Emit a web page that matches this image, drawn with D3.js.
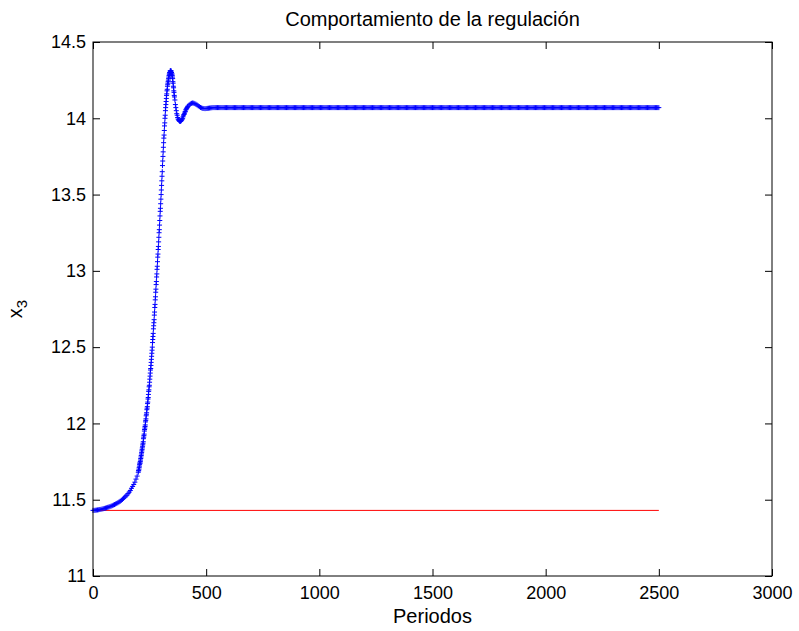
<!DOCTYPE html>
<html>
<head>
<meta charset="utf-8">
<script src="https://cdn.jsdelivr.net/npm/d3@7"></script>
<style>
  html, body { margin: 0; padding: 0; background: #fff; }
  svg { display: block; }
  text { font-family: "Liberation Sans", Arial, Helvetica, sans-serif; fill: #000; }
</style>
</head>
<body>
<div id="chart"></div>
<script>
// ---------------- data ----------------
const chartTitle = "Comportamiento de la regulación";
const xLabel = "Periodos";
const xTicks = [0, 500, 1000, 1500, 2000, 2500, 3000];
const yTicks = [11, 11.5, 12, 12.5, 13, 13.5, 14, 14.5];

// reference (red line)
const refPeriods = [0, 2500];
const refValues = [11.43, 11.43];

// x3 response, slow start: periods 0..195 step 5
const startFrom = 0, startStep = 5;
const x3Start = [11.430, 11.430, 11.431, 11.432, 11.433, 11.434, 11.436, 11.437, 11.439, 11.441,
                 11.443, 11.445, 11.447, 11.450, 11.452, 11.455, 11.458, 11.461, 11.465, 11.468,
                 11.472, 11.476, 11.480, 11.485, 11.490, 11.496, 11.502, 11.509, 11.517, 11.524,
                 11.530, 11.540, 11.550, 11.560, 11.575, 11.587, 11.600, 11.615, 11.635, 11.655];

// x3 response, steep rise and first peak: periods 200..360 step 1
const riseFrom = 200, riseStep = 1;
const x3Rise = [
  11.68, 11.69, 11.69, 11.70, 11.71, 11.72, 11.73, 11.74, 11.74, 11.75,
  11.76, 11.77, 11.78, 11.79, 11.80, 11.81, 11.82, 11.83, 11.84, 11.85,
  11.86, 11.87, 11.88, 11.90, 11.91, 11.92, 11.93, 11.95, 11.96, 11.97,
  11.98, 11.99, 12.01, 12.02, 12.03, 12.05, 12.06, 12.07, 12.09, 12.10,
  12.11, 12.13, 12.14, 12.16, 12.17, 12.19, 12.21, 12.22, 12.24, 12.25,
  12.27, 12.29, 12.31, 12.33, 12.35, 12.36, 12.38, 12.40, 12.42, 12.44,
  12.46, 12.48, 12.50, 12.53, 12.55, 12.57, 12.59, 12.62, 12.64, 12.66,
  12.68, 12.71, 12.73, 12.76, 12.78, 12.81, 12.83, 12.86, 12.88, 12.91,
  12.93, 12.96, 12.98, 13.01, 13.03, 13.06, 13.09, 13.11, 13.14, 13.16,
  13.19, 13.22, 13.25, 13.27, 13.30, 13.33, 13.36, 13.39, 13.41, 13.44,
  13.47, 13.50, 13.53, 13.56, 13.59, 13.62, 13.65, 13.69, 13.72, 13.75,
  13.78, 13.81, 13.84, 13.87, 13.89, 13.92, 13.95, 13.97, 14.00, 14.02,
  14.05, 14.07, 14.09, 14.11, 14.13, 14.15, 14.16, 14.18, 14.19, 14.21,
  14.22, 14.23, 14.24, 14.25, 14.26, 14.27, 14.28, 14.29, 14.29, 14.30,
  14.30, 14.31, 14.31, 14.31, 14.31, 14.31, 14.30, 14.30, 14.29, 14.29,
  14.28, 14.27, 14.26, 14.24, 14.23, 14.21, 14.20, 14.18, 14.17, 14.15,
  14.14];

// x3 response, undershoot: periods 362..420 step 2
const dipFrom = 362, dipStep = 2;
const x3Dip = [14.12, 14.09, 14.07, 14.05, 14.03, 14.02, 14.005, 13.995, 13.99, 13.985,
               13.982, 13.98, 13.98, 13.982, 13.985, 13.99, 13.995, 14.00, 14.01, 14.02,
               14.025, 14.03, 14.04, 14.045, 14.055, 14.06, 14.065, 14.07, 14.075, 14.08];

// x3 response, settling: periods 425..545 step 5
const settleFrom = 425, settleStep = 5;
const x3Settle = [14.088, 14.094, 14.098, 14.100, 14.099, 14.096, 14.092, 14.087, 14.081, 14.076,
                  14.071, 14.068, 14.065, 14.064, 14.063, 14.064, 14.065, 14.066, 14.067, 14.068,
                  14.069, 14.070, 14.070, 14.070, 14.070];

// steady state: periods 550..2500
const steadyFrom = 550, steadyTo = 2500, steadyStep = 5;
const steadyValue = 14.07;

// ---------------- build points ----------------
function seg(from, step, vals) { return vals.map((v, i) => [from + i * step, v]); }
const x3Points = [].concat(
  seg(startFrom, startStep, x3Start),
  seg(riseFrom, riseStep, x3Rise),
  seg(dipFrom, dipStep, x3Dip),
  seg(settleFrom, settleStep, x3Settle),
  d3.range(steadyFrom, steadyTo + 1, steadyStep).map(p => [p, steadyValue])
);

// ---------------- chart ----------------
const W = 799, H = 631;
const M = { left: 93, right: 772, top: 42, bottom: 576 };

const svg = d3.select("#chart").append("svg").attr("width", W).attr("height", H);

const x = d3.scaleLinear().domain([0, 3000]).range([M.left, M.right]);
const y = d3.scaleLinear().domain([11, 14.5]).range([M.bottom, M.top]);

const fmt = d => String(d);
const TS = 7;

// red reference line
svg.append("path")
  .datum(refPeriods.map((p, i) => [p, refValues[i]]))
  .attr("fill", "none").attr("stroke", "#ff0000").attr("stroke-width", 1)
  .attr("d", d3.line().x(d => x(d[0])).y(d => y(d[1])));

// blue + markers
const a = 2.5;
let pd = "";
x3Points.forEach(d => {
  const px = x(d[0]), py = y(d[1]);
  pd += `M${(px - a).toFixed(2)},${py.toFixed(2)}h${2 * a}M${px.toFixed(2)},${(py - a).toFixed(2)}v${2 * a}`;
});
svg.append("path").attr("d", pd).attr("fill", "none")
  .attr("stroke", "#0000ff").attr("stroke-width", 1);

// axes
function styleAxis(g) {
  g.select(".domain").remove();
  g.selectAll(".tick line").attr("stroke", "#000").attr("stroke-width", 1);
  g.selectAll("text").style("font-size", "18px").attr("fill", "#000")
    .style("font-family", "'Liberation Sans', Arial, sans-serif");
}
svg.append("g").attr("transform", `translate(0,${M.bottom})`)
  .call(d3.axisBottom(x).tickValues(xTicks).tickFormat(fmt).tickSizeInner(-TS).tickSizeOuter(0).tickPadding(10))
  .call(styleAxis);
svg.append("g").attr("transform", `translate(0,${M.top})`)
  .call(d3.axisTop(x).tickValues(xTicks).tickFormat("").tickSizeInner(-TS).tickSizeOuter(0))
  .call(styleAxis);
svg.append("g").attr("transform", `translate(${M.left},0)`)
  .call(d3.axisLeft(y).tickValues(yTicks).tickFormat(fmt).tickSizeInner(-TS).tickSizeOuter(0).tickPadding(7))
  .call(styleAxis);
svg.append("g").attr("transform", `translate(${M.right},0)`)
  .call(d3.axisRight(y).tickValues(yTicks).tickFormat("").tickSizeInner(-TS).tickSizeOuter(0))
  .call(styleAxis);

// frame
svg.append("rect")
  .attr("x", M.left).attr("y", M.top)
  .attr("width", M.right - M.left).attr("height", M.bottom - M.top)
  .attr("fill", "none").attr("stroke", "#000").attr("stroke-width", 1);

// title
svg.append("text").attr("x", (M.left + M.right) / 2).attr("y", 26)
  .attr("text-anchor", "middle").style("font-size", "20px").text(chartTitle);

// x label
svg.append("text").attr("x", (M.left + M.right) / 2).attr("y", 623)
  .attr("text-anchor", "middle").style("font-size", "20px").text(xLabel);

// y label: x with subscript 3
const yl = svg.append("text").attr("transform", "translate(22,309) rotate(-90)")
  .attr("text-anchor", "middle").style("font-size", "20px");
yl.append("tspan").text("x");
yl.append("tspan").attr("dy", 5).style("font-size", "15px").text("3");
</script>
</body>
</html>
